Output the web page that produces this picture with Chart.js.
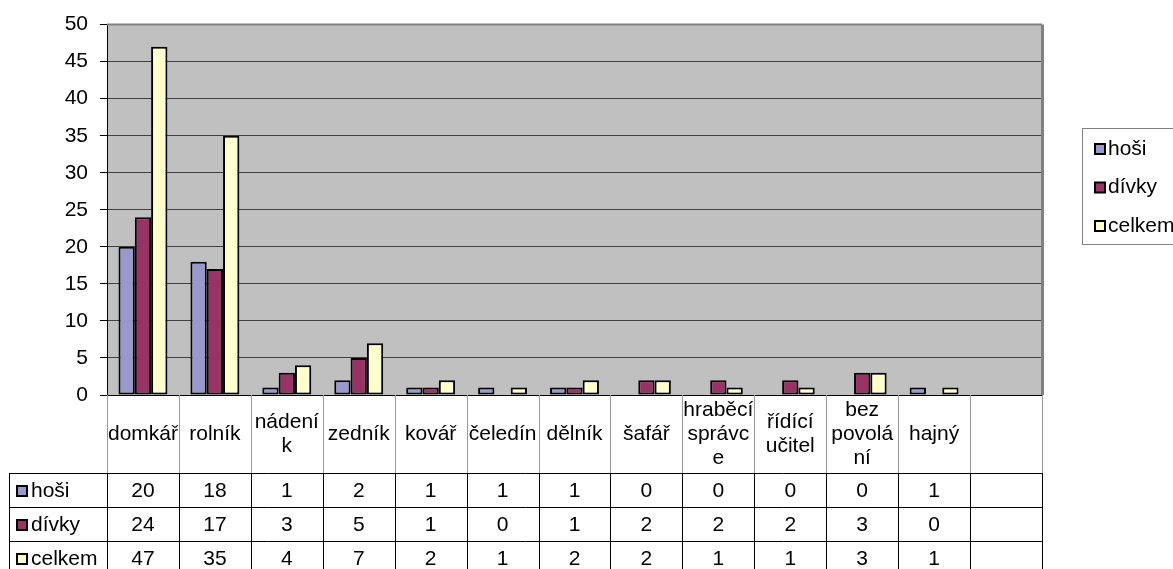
<!DOCTYPE html>
<html>
<head>
<meta charset="utf-8">
<script src="https://cdn.jsdelivr.net/npm/chart.js@4/dist/chart.umd.min.js"></script>
<style>
    body { margin: 0; background: #fff; }
    #wrap { width: 1173px; height: 569px; }
</style>
</head>
<body>
<div id="wrap"><canvas id="chart" width="1173" height="569"></canvas></div>
<script>
// Data (last column is empty in the original)
const categories = ['domkář', 'rolník', 'nádeník', 'zedník', 'kovář', 'čeledín', 'dělník',
    'šafář', 'hraběcí správce', 'řídící učitel', 'bez povolání', 'hajný', ''];
const hosi = [20, 18, 1, 2, 1, 1, 1, 0, 0, 0, 0, 1, null];
const divky = [24, 17, 3, 5, 1, 0, 1, 2, 2, 2, 3, 0, null];
const celkem = [47, 35, 4, 7, 2, 1, 2, 2, 1, 1, 3, 1, null];
const seriesNames = ['hoši', 'dívky', 'celkem'];
const yTicks = [0, 5, 10, 15, 20, 25, 30, 35, 40, 45, 50];

const FONT = '21px "Liberation Sans", Arial, sans-serif';
const colors = ['#9999CC', '#993366', '#FFFFCC'];

// Wrap a label the way Excel does: by words, and split words that do not fit
function wrapLabel(ctx, text, maxW) {
    const lines = [];
    let cur = '';
    text.split(' ').forEach(function(word) {
        let w = cur ? cur + ' ' + word : word;
        if (ctx.measureText(w).width <= maxW) { cur = w; return; }
        if (cur) { lines.push(cur); cur = ''; }
        for (const ch of word) {
            if (ctx.measureText(cur + ch).width > maxW && cur) { lines.push(cur); cur = ''; }
            cur += ch;
        }
    });
    if (cur) lines.push(cur);
    return lines;
}

function line(ctx, x1, y1, x2, y2) {
    ctx.beginPath();
    ctx.moveTo(x1, y1);
    ctx.lineTo(x2, y2);
    ctx.stroke();
}

const plotBg = {
    id: 'plotBg',
    beforeDraw(chart) {
        const a = chart.chartArea;
        const ctx = chart.ctx;
        ctx.save();
        ctx.fillStyle = '#C0C0C0';
        ctx.fillRect(a.left, a.top, a.right - a.left, a.bottom - a.top);
        ctx.restore();
    }
};

// Data table under the plot and the legend on the right
const dataTable = {
    id: 'dataTable',
    afterDraw(chart) {
        const ctx = chart.ctx;
        const a = chart.chartArea;
        const n = categories.length;
        const colW = (a.right - a.left) / n;
        const headTop = Math.round(a.bottom);
        const headH = 78;
        const rowH = 34;
        const tableLeft = 9;
        const rowsTop = headTop + headH;

        ctx.save();
        ctx.font = FONT;
        ctx.fillStyle = '#000';
        ctx.textAlign = 'center';
        ctx.textBaseline = 'middle';

        // plot frame top and right
        ctx.strokeStyle = '#808080';
        ctx.lineWidth = 2;
        line(ctx, a.left, a.top, a.right, a.top);
        ctx.lineWidth = 3;
        line(ctx, a.right + 0.5, a.top, a.right + 0.5, a.bottom);

        // header row with category names
        ctx.strokeStyle = '#9a9a9a';
        ctx.lineWidth = 1;
        for (let i = 0; i <= n; i++) {
            const x = Math.round(a.left + i * colW) + 0.5;
            line(ctx, x, headTop, x, rowsTop);
        }
        categories.forEach(function(cat, i) {
            if (!cat) return;
            const cx = chart.scales.x.getPixelForValue(i);
            const lines = wrapLabel(ctx, cat, colW - 1);
            const lh = 24;
            const y0 = headTop + headH / 2 - (lines.length - 1) * lh / 2;
            lines.forEach(function(t, k) { ctx.fillText(t, cx, y0 + k * lh); });
        });

        // value rows
        const datasets = chart.data.datasets;
        ctx.strokeStyle = '#000';
        for (let r = 0; r <= datasets.length; r++) {
            const y = rowsTop + r * rowH + 0.5;
            line(ctx, tableLeft, y, a.right, y);
        }
        const bottom = rowsTop + datasets.length * rowH;
        line(ctx, tableLeft + 0.5, rowsTop, tableLeft + 0.5, bottom);
        for (let i = 0; i <= n; i++) {
            const x = Math.round(a.left + i * colW) + 0.5;
            line(ctx, x, rowsTop, x, bottom);
        }
        datasets.forEach(function(ds, r) {
            const cy = rowsTop + r * rowH + rowH / 2 + 1;
            // legend key
            ctx.fillStyle = ds.backgroundColor;
            ctx.fillRect(17, cy - 5, 10, 10);
            ctx.lineWidth = 2;
            ctx.strokeRect(17, cy - 5, 10, 10);
            ctx.lineWidth = 1;
            ctx.fillStyle = '#000';
            ctx.textAlign = 'left';
            ctx.fillText(ds.label, 31, cy);
            ctx.textAlign = 'center';
            ds.data.forEach(function(v, i) {
                if (v === null) return;
                ctx.fillText(String(v), chart.scales.x.getPixelForValue(i), cy);
            });
        });

        // legend box
        ctx.strokeStyle = '#808080';
        ctx.fillStyle = '#fff';
        ctx.fillRect(1082.5, 128.5, 110, 116);
        ctx.strokeRect(1082.5, 128.5, 110, 116);
        ctx.textAlign = 'left';
        datasets.forEach(function(ds, r) {
            const cy = 149 + r * 38.5;
            ctx.fillStyle = ds.backgroundColor;
            ctx.fillRect(1095, cy - 5, 10, 10);
            ctx.strokeStyle = '#000';
            ctx.lineWidth = 2;
            ctx.strokeRect(1095, cy - 5, 10, 10);
            ctx.fillStyle = '#000';
            ctx.fillText(ds.label, 1108, cy);
        });
        ctx.restore();
    }
};

const chartData = {
    labels: categories,
    datasets: [hosi, divky, celkem].map(function(values, i) {
        return {
            label: seriesNames[i],
            data: values,
            backgroundColor: colors[i],
            borderColor: '#000',
            borderWidth: 2,
            borderSkipped: false,
            categoryPercentage: 0.68,
            barPercentage: 1.0
        };
    })
};

new Chart(document.getElementById('chart'), {
    type: 'bar',
    data: chartData,
    plugins: [plotBg, dataTable],
    options: {
        responsive: false,
        animation: false,
        devicePixelRatio: 1,
        layout: { padding: { top: 22, right: 131, left: 0, bottom: 0 } },
        plugins: {
            legend: { display: false },
            tooltip: { enabled: false }
        },
        scales: {
            x: {
                ticks: { display: false },
                grid: { display: false },
                border: { display: true, color: '#000', width: 1 },
                afterFit: function(scale) { scale.height = 174; }
            },
            y: {
                min: 0,
                max: 50,
                afterBuildTicks: function(scale) {
                    scale.ticks = yTicks.map(function(v) { return { value: v }; });
                },
                ticks: {
                    font: { family: '"Liberation Sans", Arial, sans-serif', size: 21 },
                    color: '#000',
                    padding: 12
                },
                grid: { color: '#404040', lineWidth: 1, tickLength: 7, tickColor: '#000' },
                border: { color: '#000', width: 1 },
                afterFit: function(scale) { scale.width = 107; }
            }
        }
    }
});
</script>
</body>
</html>
